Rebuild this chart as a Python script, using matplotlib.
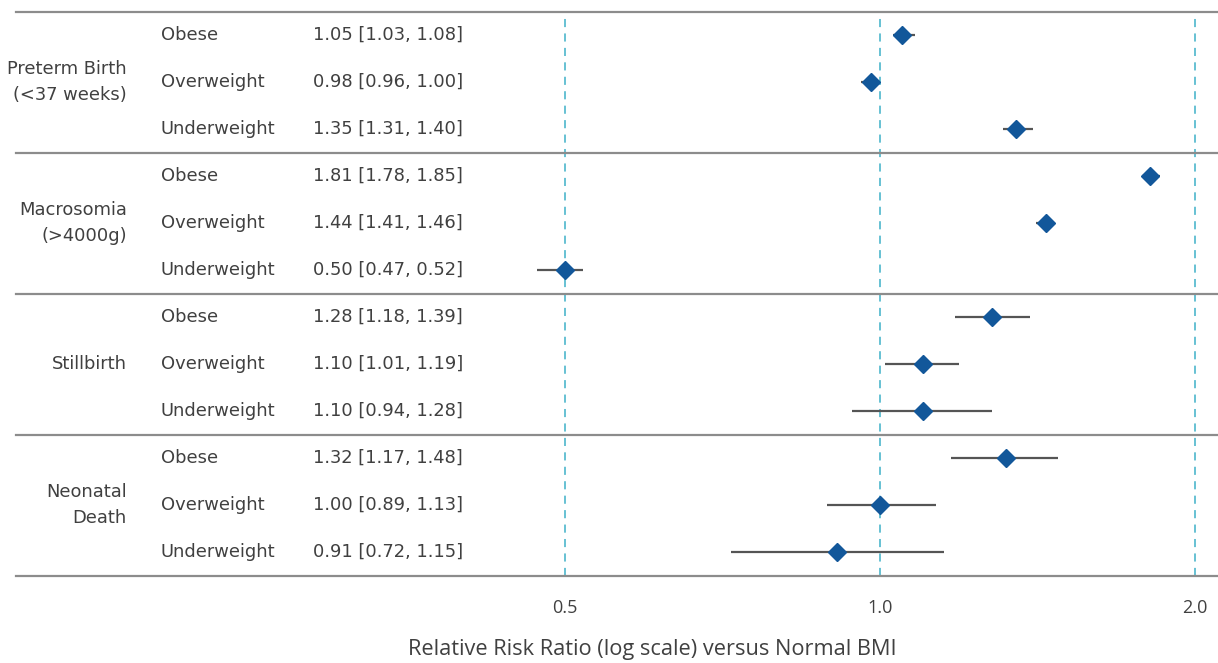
import matplotlib
matplotlib.use("Agg")
import matplotlib.pyplot as plt
import matplotlib.transforms as mtransforms
import numpy as np

outcomes = ["Preterm Birth\n(<37 weeks)", "Macrosomia\n(>4000g)", "Stillbirth", "Neonatal\nDeath"]
bmi_groups = ["Obese", "Overweight", "Underweight"]
rr = [1.05, 0.98, 1.35, 1.81, 1.44, 0.50, 1.28, 1.10, 1.10, 1.32, 1.00, 0.91]
ci_low = [1.03, 0.96, 1.31, 1.78, 1.41, 0.47, 1.18, 1.01, 0.94, 1.17, 0.89, 0.72]
ci_high = [1.08, 1.00, 1.40, 1.85, 1.46, 0.52, 1.39, 1.19, 1.28, 1.48, 1.13, 1.15]
ref_lines = [0.5, 1.0, 2.0]
tick_labels = ["0.5", "1.0", "2.0"]
xlabel = "Relative Risk Ratio (log scale) versus Normal BMI"

W, H = 1218, 663
fig = plt.figure(figsize=(W / 100, H / 100), dpi=100)
plt.rcParams['font.family'] = ['Open Sans', 'DejaVu Sans']
txt_color = "#404040"
tab_font = ['DejaVu Sans']

top_px, bot_px, left_px = 11.5, 575.5, 16
ax = fig.add_axes([left_px / W, (H - bot_px) / H, (W - left_px) / W, (bot_px - top_px) / H])
ax.set_xscale("log", base=2)
ax.set_xlim(2 ** ((16 - 880) / 315), 2 ** ((1218 - 880) / 315))
n = len(rr)
ax.set_ylim(n - 0.5, -0.5)

for s in ax.spines.values():
    s.set_visible(False)

for xv in ref_lines:
    ax.axvline(xv, color="#5BBCD0", lw=1.3, ls=(0, (4.5, 3.5)), zorder=1)

for b in np.arange(-0.5, n, 3):
    ax.axhline(b, color="#8C8C8C", lw=1.6, zorder=2, clip_on=False)

ys = np.arange(n)
ax.hlines(ys, ci_low, ci_high, color="#555555", lw=1.6, zorder=3)
ax.plot(rr, ys, ls="none", marker="D", ms=9.5, color="#12579A", mec="#12579A", zorder=4)

ax.set_yticks([])
ax.set_xticks(ref_lines)
ax.set_xticklabels(tick_labels)
ax.xaxis.set_minor_locator(matplotlib.ticker.NullLocator())
ax.tick_params(axis="x", length=0, pad=17, labelsize=13, labelcolor=txt_color)
fig.text(652 / W, 1 - 649 / H, xlabel, ha="center", va="center",
         fontsize=15.7, color=txt_color)

tr = mtransforms.blended_transform_factory(fig.transFigure, ax.transData)
for gi, name in enumerate(outcomes):
    ax.text(127 / W, gi * 3 + 1, name, transform=tr, ha="right", va="center",
            fontsize=12.9, color=txt_color, linespacing=1.55, family=tab_font)
for i in range(n):
    ax.text(161 / W, i, bmi_groups[i % 3], transform=tr, ha="left", va="center",
            fontsize=12.9, color=txt_color, family=tab_font)
    ax.text(313 / W, i, f"{rr[i]:.2f} [{ci_low[i]:.2f}, {ci_high[i]:.2f}]", transform=tr,
            ha="left", va="center", fontsize=12.9, color=txt_color, family=tab_font)

fig.savefig("out.png", dpi=100)
